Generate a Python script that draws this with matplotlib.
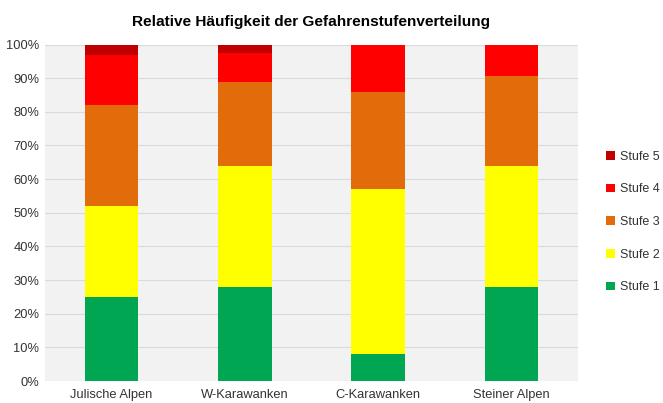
import numpy as np
import matplotlib
matplotlib.use('Agg')
import matplotlib.pyplot as plt
from matplotlib.ticker import PercentFormatter

# Gebiete und Anteile je Gefahrenstufe (in %)
gebiete = ["Julische Alpen", "W-Karawanken", "C-Karawanken", "Steiner Alpen"]
stufe_1 = [25.0, 28.0, 8.0, 28.0]
stufe_2 = [27.0, 36.0, 49.0, 36.0]
stufe_3 = [30.0, 25.0, 29.0, 26.5]
stufe_4 = [15.0, 8.5, 14.0, 9.5]
stufe_5 = [3.0, 2.5, 0.0, 0.0]

namen = ["Stufe 1", "Stufe 2", "Stufe 3", "Stufe 4", "Stufe 5"]
farben = ["#00a651", "#ffff00", "#e36c0a", "#ff0000", "#c00000"]

plt.rcParams["font.family"] = ["Liberation Sans", "DejaVu Sans"]

fig = plt.figure(figsize=(6.63, 4.03), dpi=100)
ax = fig.add_axes([45 / 663, 1 - 381 / 403, 533 / 663, 336.5 / 403])
ax.set_facecolor("#f2f2f2")

x = np.arange(len(gebiete))
boden = np.zeros(len(gebiete))
handles = []
for werte, name, farbe in zip([stufe_1, stufe_2, stufe_3, stufe_4, stufe_5], namen, farben):
    b = ax.bar(x, werte, width=0.4, bottom=boden, color=farbe, label=name, zorder=3)
    handles.append(b)
    boden += np.array(werte)

ax.set_xlim(-0.5, 3.5)
ax.set_ylim(0, 100)
ax.set_yticks(np.arange(0, 101, 10))
ax.yaxis.set_major_formatter(PercentFormatter(decimals=0))
ax.set_xticks(x)
ax.set_xticklabels(gebiete)
ax.tick_params(length=0, labelsize=9.3, colors="#333333", pad=4)
ax.tick_params(axis="x", pad=5.5)
ax.grid(axis="y", color="#dadada", linewidth=0.8, zorder=0)
for s in ax.spines.values():
    s.set_visible(False)

ax.set_title("Relative Häufigkeit der Gefahrenstufenverteilung",
             fontsize=11.1, fontweight="bold", pad=13)

leg = fig.legend(handles[::-1], namen[::-1], loc="center left",
                 bbox_to_anchor=(595 / 663, 1 - 222 / 403), frameon=False,
                 fontsize=9, handlelength=0.7, handleheight=0.7,
                 handletextpad=0.4, labelspacing=1.65)
for t in leg.get_texts():
    t.set_color("#333333")

fig.savefig("out.png", dpi=100, facecolor="white")
